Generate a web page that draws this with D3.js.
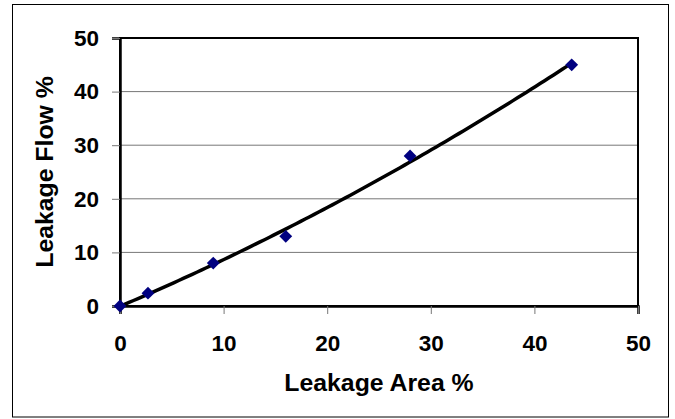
<!DOCTYPE html>
<html>
<head>
<meta charset="utf-8">
<script src="https://cdn.jsdelivr.net/npm/d3@7"></script>
<style>
  body { margin: 0; background: #fff; }
  text { font-family: "Liberation Sans", Arial, sans-serif; font-weight: bold; fill: #000; }
</style>
</head>
<body>
<div id="chart"></div>
<script>
// data
const leakArea = [0, 2.7, 9, 16, 28, 43.6];
const leakFlow = [0, 2.4, 8, 13, 28, 45];
const xTicks = [0, 10, 20, 30, 40, 50];
const yTicks = [0, 10, 20, 30, 40, 50];

const W = 675, H = 419;
const plot = { left: 120, top: 38, right: 638, bottom: 306 };

const x = d3.scaleLinear().domain([0, 50]).range([plot.left, plot.right]);
const y = d3.scaleLinear().domain([0, 50]).range([plot.bottom, plot.top]);

const svg = d3.select("#chart").append("svg")
  .attr("width", W)
  .attr("height", H);

// outer chart frame
svg.append("rect")
  .attr("x", 12.5).attr("y", 4.5)
  .attr("width", 656).attr("height", 412.5)
  .attr("fill", "#fff")
  .attr("stroke", "#000")
  .attr("stroke-width", 1);

// gridlines
svg.append("g")
  .selectAll("line")
  .data(yTicks.filter(d => d > 0 && d < 50))
  .enter()
  .append("line")
  .attr("x1", plot.left).attr("x2", plot.right)
  .attr("y1", d => y(d)).attr("y2", d => y(d))
  .attr("stroke", "#777")
  .attr("stroke-width", 1);

// plot area border
svg.append("rect")
  .attr("x", plot.left).attr("y", plot.top)
  .attr("width", plot.right - plot.left)
  .attr("height", plot.bottom - plot.top)
  .attr("fill", "none")
  .attr("stroke", "#000")
  .attr("stroke-width", 2);

// axes
const xAxis = svg.append("g")
  .attr("transform", "translate(0," + plot.bottom + ")")
  .call(d3.axisBottom(x).tickValues(xTicks).tickSize(8).tickPadding(21));
const yAxis = svg.append("g")
  .attr("transform", "translate(" + plot.left + ",0)")
  .call(d3.axisLeft(y).tickValues(yTicks).tickSize(8).tickPadding(13));

[xAxis, yAxis].forEach(g => {
  g.select(".domain").attr("stroke", "#000").attr("stroke-width", 2.5);
  g.selectAll(".tick line").attr("stroke", "#777");
  g.selectAll(".tick text")
    .style("font-size", "22.5px")
    .style("font-family", "'Liberation Sans', Arial, sans-serif")
    .style("font-weight", "bold");
});

// axis titles
svg.append("text")
  .attr("x", (plot.left + plot.right) / 2)
  .attr("y", 391)
  .attr("text-anchor", "middle")
  .style("font-size", "24.8px")
  .text("Leakage Area %");

svg.append("text")
  .attr("transform", "translate(53," + (plot.top + plot.bottom) / 2 + ") rotate(-90)")
  .attr("text-anchor", "middle")
  .style("font-size", "24.8px")
  .text("Leakage Flow %");

// polynomial (order 2) trendline, least squares on the points
function polyFit(xs, ys) {
  const n = xs.length;
  let s = [0, 0, 0, 0, 0], t = [0, 0, 0];
  for (let i = 0; i < n; i++) {
    for (let k = 0; k <= 4; k++) s[k] += Math.pow(xs[i], k);
    for (let k = 0; k <= 2; k++) t[k] += Math.pow(xs[i], k) * ys[i];
  }
  const M = [
    [s[0], s[1], s[2], t[0]],
    [s[1], s[2], s[3], t[1]],
    [s[2], s[3], s[4], t[2]]
  ];
  for (let i = 0; i < 3; i++) {
    for (let j = i + 1; j < 3; j++) {
      const f = M[j][i] / M[i][i];
      for (let k = i; k < 4; k++) M[j][k] -= f * M[i][k];
    }
  }
  const c = [0, 0, 0];
  for (let i = 2; i >= 0; i--) {
    let v = M[i][3];
    for (let k = i + 1; k < 3; k++) v -= M[i][k] * c[k];
    c[i] = v / M[i][i];
  }
  return c;
}
const coef = polyFit(leakArea, leakFlow);
const trendX = d3.range(0, 101).map(i => d3.min(leakArea) + (d3.max(leakArea) - d3.min(leakArea)) * i / 100);

svg.append("path")
  .datum(trendX)
  .attr("fill", "none")
  .attr("stroke", "#000")
  .attr("stroke-width", 3.5)
  .attr("d", d3.line()
    .x(d => x(d))
    .y(d => y(coef[0] + coef[1] * d + coef[2] * d * d)));

// markers
svg.append("g")
  .selectAll("path")
  .data(leakArea)
  .enter()
  .append("path")
  .attr("d", d3.symbol().type(d3.symbolDiamond2).size(105))
  .attr("transform", (d, i) => "translate(" + x(d) + "," + y(leakFlow[i]) + ")")
  .attr("fill", "#000080");
</script>
</body>
</html>
